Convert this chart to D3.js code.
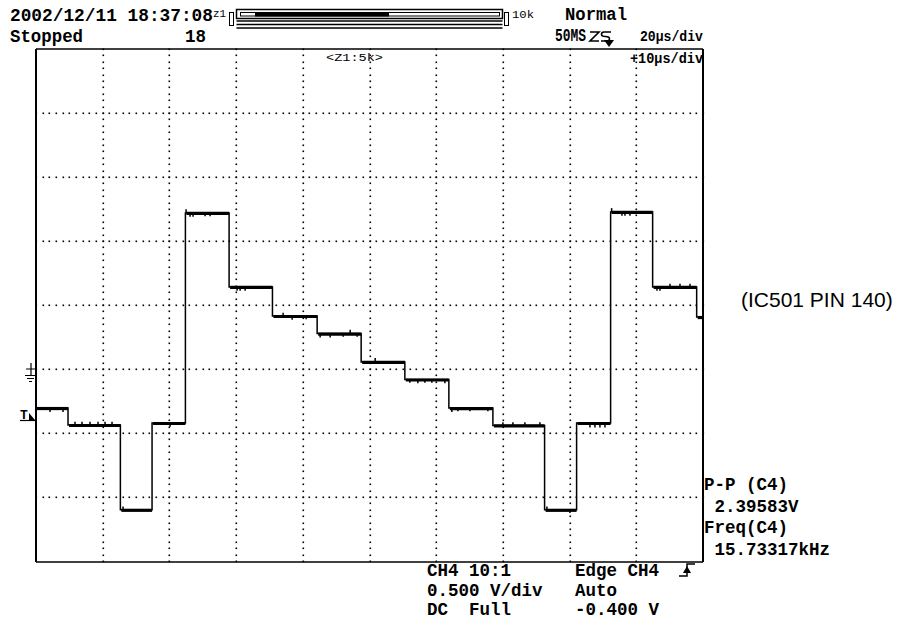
<!DOCTYPE html>
<html><head><meta charset="utf-8">
<script src="https://cdn.jsdelivr.net/npm/d3@7"></script>
<style>
html,body{margin:0;padding:0;background:#fff;}
svg{display:block;}
text{font-family:"Liberation Mono","DejaVu Sans Mono",monospace;font-weight:bold;fill:#000;white-space:pre;}
</style></head><body>
<svg id="c" width="904" height="626"></svg>
<script>
// ---- data (time in µs, voltage in V) ----
const stepTimes  = [0, 9.6, 25.3, 34.8, 44.8, 57.9, 70.9, 84.3, 97.5, 110.6, 123.8, 137.0, 152.5, 162.1, 172.3, 184.9, 198.1];
const stepLevels = [-0.305, -0.4375, -1.10, -0.422, 1.219, 0.641, 0.414, 0.277, 0.055, -0.082, -0.305, -0.441, -1.10, -0.422, 1.227, 0.641, 0.406];
const glitchTimes  = [4.2, 8.1, 11.7, 13.8, 16.2, 18.6, 20.7, 22.8, 26.1, 40.2, 45.0, 46.2, 47.1, 50.7, 52.2, 60.3, 61.2, 62.7, 74.1, 76.8, 81.0, 85.2, 88.2, 92.1, 94.2, 96.3, 101.7, 112.1, 114.5, 116.6, 118.7, 122.6, 124.7, 126.5, 130.1, 135.5, 140.0, 143.0, 146.6, 151.1, 153.2, 160.1, 166.1, 167.6, 169.1, 170.6, 172.6, 175.7, 176.6, 178.1, 186.2, 187.1, 190.1, 193.1, 196.1];
const glitchDeltas = [-0.03, -0.03, 0.025, 0.025, 0.025, 0.025, 0.025, 0.025, 0.025, -0.03, 0.03, -0.03, -0.03, -0.025, -0.025, -0.03, -0.03, -0.03, 0.025, -0.03, -0.025, -0.03, -0.03, -0.025, 0.03, -0.025, 0.03, -0.025, -0.03, -0.025, -0.025, -0.03, -0.03, -0.025, -0.025, -0.025, 0.025, 0.025, 0.025, 0.025, 0.025, -0.025, -0.035, -0.035, -0.035, -0.035, 0.03, -0.03, -0.03, -0.03, -0.03, -0.03, 0.025, 0.025, 0.025];
const xTicks = [0, 20, 40, 60, 80, 100, 120, 140, 160, 180, 200];
const yTicks = [-1.5, -1.0, -0.5, 0, 0.5, 1.0, 1.5, 2.0, 2.5];
const triggerLevel = -0.4;
const headerLines = ["2002/12/11 18:37:08", "Stopped", "18", "Normal", "50MS", "20µs/div", "+10µs/div", "<Z1:5k>"];
const setupLeft  = ["CH4 10:1", "0.500 V/div", "DC  Full"];
const setupRight = ["Edge CH4", "Auto", "-0.400 V"];
const measureLines = ["P-P (C4)", " 2.39583V", "Freq(C4)", " 15.73317kHz"];
const sideLabel = "(IC501 PIN 140)";

// ---- layout ----
const svg = d3.select("#c");
const X0 = 36, X1 = 703, Y0 = 49, Y1 = 561;
const x = d3.scaleLinear().domain([0, 200]).range([X0, X1]);
const y = d3.scaleLinear().domain([-1.5, 2.5]).range([Y1, Y0]);

// dotted grid
const g = svg.append("g");
const dots = [];
const minorT = d3.range(0, 200.001, 2);
const minorV = d3.range(-1.5, 2.5001, 0.05);
xTicks.slice(1, -1).forEach(t => minorV.forEach(v => dots.push([x(t), y(v)])));
yTicks.slice(1, -1).forEach(v => minorT.forEach(t => dots.push([x(t), y(v)])));
g.selectAll("rect.d").data(dots).join("rect")
  .attr("x", d => Math.round(d[0]) - 0.5).attr("y", d => Math.round(d[1]) - 0.5)
  .attr("width", 1.6).attr("height", 1.6).attr("fill", "#000");

// frame
svg.append("line").attr("x1", X0).attr("x2", X1).attr("y1", Y0).attr("y2", Y0).attr("stroke", "#000").attr("stroke-width", 1.5);
svg.append("line").attr("x1", X0).attr("x2", X1).attr("y1", Y1 + 1).attr("y2", Y1 + 1).attr("stroke", "#000").attr("stroke-width", 1.5);
svg.append("line").attr("x1", X0).attr("x2", X0).attr("y1", Y0).attr("y2", Y1 + 1).attr("stroke", "#000").attr("stroke-width", 2);
svg.append("line").attr("x1", X1).attr("x2", X1).attr("y1", Y0).attr("y2", Y1 + 1).attr("stroke", "#000").attr("stroke-width", 2);

// waveform
const pts = stepTimes.map((t, i) => [t, stepLevels[i]]);
pts.push([200, stepLevels[stepLevels.length - 1]]);
const line = d3.line().x(d => x(d[0])).y(d => y(d[1])).curve(d3.curveStepAfter);
svg.append("path").attr("d", line(pts)).attr("fill", "none").attr("stroke", "#000").attr("stroke-width", 1.5);
const plate = stepTimes.map((t, i) => ({t0: t, t1: i + 1 < stepTimes.length ? stepTimes[i + 1] : 200, v: stepLevels[i]}));
svg.append("g").selectAll("line").data(plate).join("line")
  .attr("x1", d => x(d.t0) + 1).attr("x2", d => x(d.t1))
  .attr("y1", d => y(d.v) + 0.5).attr("y2", d => y(d.v) + 0.5)
  .attr("stroke", "#000").attr("stroke-width", 3.2);
svg.append("g").selectAll("line").data(glitchTimes).join("line")
  .attr("x1", d => x(d)).attr("x2", d => x(d))
  .attr("y1", d => y(stepLevels[d3.bisectRight(stepTimes, d) - 1]))
  .attr("y2", (d, i) => y(stepLevels[d3.bisectRight(stepTimes, d) - 1] + glitchDeltas[i]))
  .attr("stroke", "#000").attr("stroke-width", 1.5);

// ground marker
const gy = Math.round(y(0));
const gm = svg.append("g").attr("stroke", "#000").attr("stroke-width", 1.2).attr("fill", "none");
gm.append("path").attr("d", `M31,${gy - 6}V${gy + 6}M25,${gy + 6.5}H36M27,${gy + 9.5}H34M29,${gy + 12.5}H32M26,${gy}H35`);
// trigger marker
const ty = Math.round(y(triggerLevel));
svg.append("text").attr("x", 20).attr("y", ty - 1).style("font-size", "13px").text("T");
svg.append("path").attr("d", `M20,${ty + 0.5}H35`).attr("stroke", "#000").attr("stroke-width", 1.2);
svg.append("path").attr("d", `M29,${ty - 7}L35,${ty}L29,${ty}Z`).attr("fill", "#000");

// header
const T = (s, px, py, size, len, wt) => {
  const t = svg.append("text").attr("x", px).attr("y", py).style("font-size", size + "px").text(s);
  if (len) t.attr("textLength", len).attr("lengthAdjust", "spacingAndGlyphs");
  if (wt) t.style("font-weight", wt);
  return t;
};
T(headerLines[0], 10, 21, 17.5, 203);
T(headerLines[1], 10, 42, 17.5, 73);
T(headerLines[2], 185, 42, 17.5, 21);
T(headerLines[3], 565, 20, 17.5, 62);
T(headerLines[4], 555, 41, 17.5, 31);
T(headerLines[5], 640, 41, 15, 63);
T(headerLines[6], 630, 63, 15, 73);
T(headerLines[7], 326, 61, 11, 57, "normal");
// acquisition-mode symbol after 50MS (drawn glyph)
svg.append("path").attr("d", "M590,32H599L590,41H599M611,32H604Q601.5,32 601.5,34.5Q601.5,36.5 605.5,36.5Q609.5,36.5 609.5,39Q609.5,41 606.5,41H601")
  .attr("fill", "none").attr("stroke", "#000").attr("stroke-width", 1.6);
svg.append("path").attr("d", "M604,40L614,40L609,47Z").attr("fill", "#000");
// zoom position bar
T("z1", 213, 17, 10, 13, "normal");
svg.append("rect").attr("x", 229.5).attr("y", 12.5).attr("width", 4).attr("height", 13).attr("fill", "none").attr("stroke", "#000");
svg.append("rect").attr("x", 504.5).attr("y", 12.5).attr("width", 4).attr("height", 13).attr("fill", "none").attr("stroke", "#000");
T("10k", 512, 18, 10, 22, "normal");
svg.append("rect").attr("x", 236.5).attr("y", 9.5).attr("width", 266).attr("height", 9).attr("fill", "none").attr("stroke", "#000").attr("stroke-width", 1.5);
svg.append("rect").attr("x", 240.5).attr("y", 12.5).attr("width", 259).attr("height", 3.5).attr("fill", "none").attr("stroke", "#000").attr("stroke-width", 1);
svg.append("rect").attr("x", 255).attr("y", 12).attr("width", 134).attr("height", 4.5).attr("fill", "#000");
[21, 24.5, 28].forEach(yy => svg.append("line").attr("x1", 236.5).attr("x2", 502.5).attr("y1", yy).attr("y2", yy).attr("stroke", "#000").attr("stroke-width", 1.3));

// setup texts
setupLeft.forEach((s, i) => T(s, 427, 576 + i * 19.5, 17.5, s.length * 10.5));
setupRight.forEach((s, i) => T(s, 575, 576 + i * 19.5, 17.5, s.length * 10.5));
svg.append("path").attr("d", "M679,576H687V564H695").attr("fill", "none").attr("stroke", "#000").attr("stroke-width", 1.5);
svg.append("path").attr("d", "M683,573L687,566L691,573Z").attr("fill", "#000");

// measurement texts
measureLines.forEach((s, i) => T(s, 704, [490, 512, 533, 555][i], 17.5, s.length * 10.5));

// side label
svg.append("text").attr("x", 741).attr("y", 307).style("font-family", "'Liberation Sans',Arial,sans-serif")
  .style("font-weight", "normal").style("font-size", "21px").text(sideLabel);
</script>
</body></html>
